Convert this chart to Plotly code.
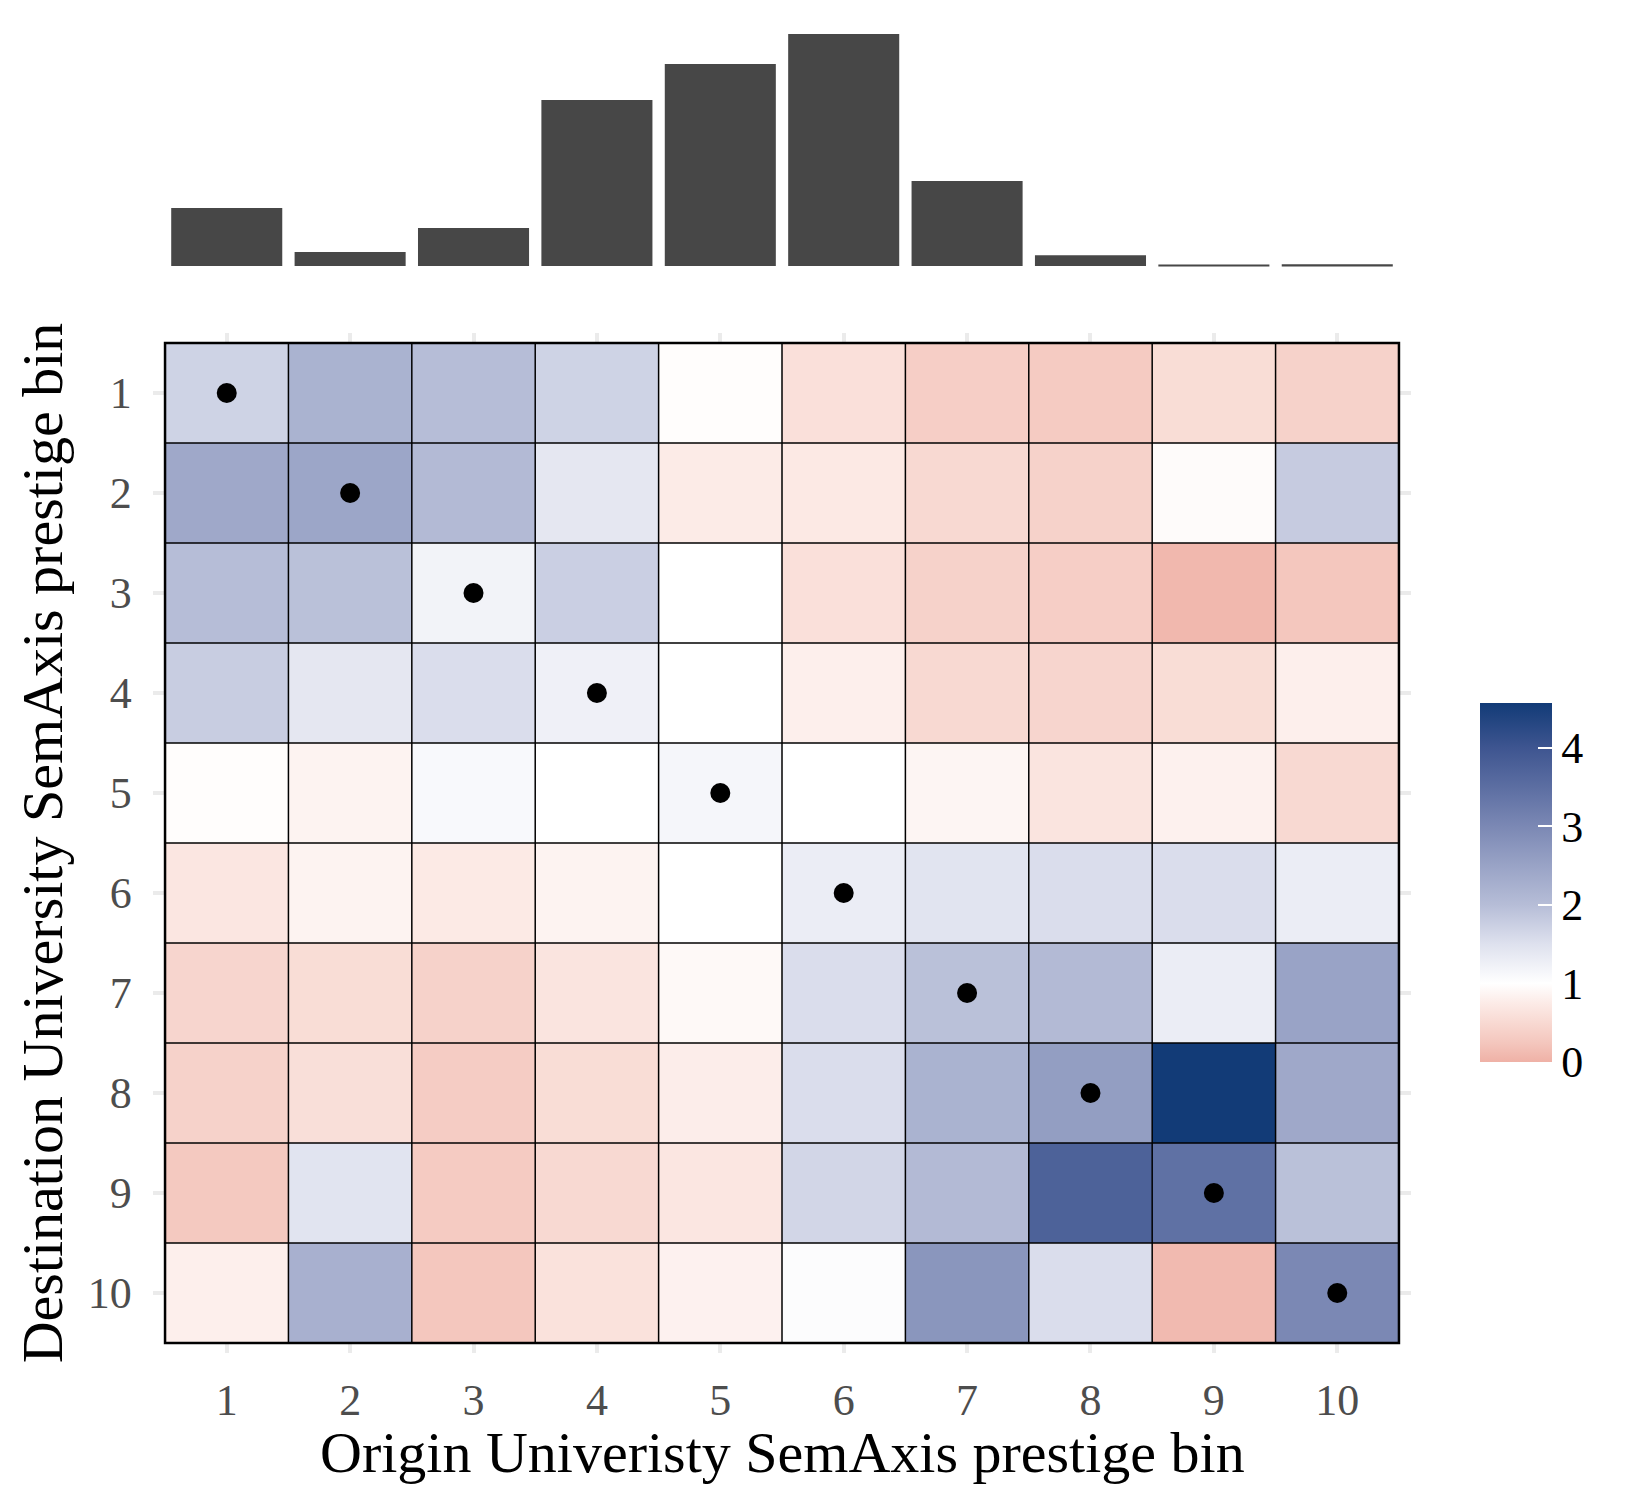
import plotly.graph_objects as go

# bins
bins = list(range(1, 11))

# top histogram: number of origin universities per bin
origin_counts = [174, 42, 114, 498, 606, 696, 255, 32, 2, 5]

# destination (rows, 1 at top) x origin (cols)
ratio = [
    [1.70, 2.20, 2.00, 1.70, 0.97, 0.60, 0.35, 0.30, 0.55, 0.40],
    [2.40, 2.45, 2.05, 1.40, 0.75, 0.72, 0.50, 0.40, 0.95, 1.80],
    [2.00, 1.95, 1.20, 1.75, 1.00, 0.60, 0.40, 0.35, 0.08, 0.25],
    [1.78, 1.40, 1.55, 1.25, 1.00, 0.80, 0.50, 0.45, 0.55, 0.80],
    [0.97, 0.85, 1.10, 1.00, 1.15, 1.00, 0.87, 0.65, 0.82, 0.50],
    [0.68, 0.85, 0.73, 0.85, 1.00, 1.30, 1.45, 1.55, 1.55, 1.30],
    [0.45, 0.55, 0.40, 0.65, 0.92, 1.55, 1.95, 2.05, 1.30, 2.50],
    [0.40, 0.58, 0.32, 0.55, 0.78, 1.55, 2.20, 2.60, 4.57, 2.40],
    [0.28, 1.45, 0.30, 0.50, 0.68, 1.65, 2.05, 3.75, 3.45, 1.95],
    [0.80, 2.25, 0.25, 0.62, 0.83, 1.05, 2.75, 1.55, 0.10, 3.00],
]

# colour stops (value, colour), white at 1
stops = [
    (0.0, "#EFB1A6"), (0.25, "#F4C7BE"), (0.5, "#F8D9D2"), (0.75, "#FCEBE7"),
    (1.0, "#FFFFFF"), (1.5, "#DEE1EE"), (2.0, "#B6BDD7"), (2.5, "#99A3C6"),
    (3.0, "#7B88B4"), (3.5, "#5C6EA2"), (4.0, "#3E5590"), (4.57, "#123B77"),
]

zmin = 0
zmax = max(max(r) for r in ratio)
colorscale = [[(v - zmin) / (zmax - zmin), c] for v, c in stops]
colorscale[-1][0] = 1.0

font = "Liberation Serif"
W, H = 1650, 1500
off = 8  # page body margin

fig = go.Figure()

fig.add_trace(go.Heatmap(
    x=bins, y=bins, z=ratio, zmin=zmin, zmax=zmax,
    colorscale=colorscale, xaxis="x", yaxis="y",
    colorbar=dict(
        x=(1480 - off) / W, xanchor="left", xpad=0,
        y=1 - (882.5 - off) / H, yanchor="middle", ypad=0,
        thickness=72, thicknessmode="pixels", len=359, lenmode="pixels",
        outlinewidth=0, tickvals=[0, 1, 2, 3, 4],
        ticks="inside", ticklen=14, tickwidth=2, tickcolor="white",
        tickfont=dict(family=font, size=44, color="black"),
    ),
))

fig.add_trace(go.Scatter(
    x=bins, y=bins, mode="markers",
    marker=dict(color="black", size=20), xaxis="x", yaxis="y",
    showlegend=False,
))

fig.add_trace(go.Bar(
    x=bins, y=origin_counts, width=0.9, marker_color="#474747",
    marker_line_width=0, xaxis="x2", yaxis="y2", showlegend=False,
))

# tile borders
for k in range(len(bins) + 1):
    p = k + 0.5
    fig.add_shape(type="line", x0=p, x1=p, y0=0.5, y1=10.5, xref="x", yref="y",
                  line=dict(color="black", width=1.5))
    fig.add_shape(type="line", x0=0.5, x1=10.5, y0=p, y1=p, xref="x", yref="y",
                  line=dict(color="black", width=1.5))
fig.add_shape(type="rect", x0=0.5, x1=10.5, y0=0.5, y1=10.5, xref="x", yref="y",
              line=dict(color="black", width=2.5))

xdom = [(152.7 - off) / W, (1411.3 - off) / W]
tickfont = dict(family=font, size=44, color="#4D4D4D")

fig.add_annotation(
    text="Origin Univeristy SemAxis prestige bin",
    xref="paper", yref="paper", x=(782 - off) / W, y=1 - (1418 - off) / H,
    xanchor="center", yanchor="top", showarrow=False,
    font=dict(family=font, size=58, color="black"),
)

fig.update_layout(
    width=W, height=H,
    margin=dict(l=0, r=0, t=0, b=0),
    paper_bgcolor="white", plot_bgcolor="white",
    showlegend=False,
    xaxis=dict(
        domain=xdom, range=[0.4, 10.6], tickvals=bins, automargin=False,
        showgrid=True, gridcolor="#EBEBEB", gridwidth=4, zeroline=False,
        showline=False, ticks="", ticklabelstandoff=17, tickfont=tickfont,
    ),
    yaxis=dict(
        domain=[1 - (1353 - off) / H, 1 - (333 - off) / H], range=[10.6, 0.4],
        tickvals=bins, automargin=False,
        showgrid=True, gridcolor="#EBEBEB", gridwidth=4, zeroline=False,
        showline=False, ticks="", ticklabelstandoff=20, tickfont=tickfont,
        title=dict(text="Destination University SemAxis prestige bin",
                   font=dict(family=font, size=58, color="black"), standoff=6),
    ),
    xaxis2=dict(domain=xdom, range=[0.4, 10.6], visible=False),
    yaxis2=dict(domain=[1 - (277.6 - off) / H, 1 - (22.4 - off) / H],
                range=[-0.05 * max(origin_counts), 1.05 * max(origin_counts)],
                visible=False),
)

fig.write_html("out.html")
